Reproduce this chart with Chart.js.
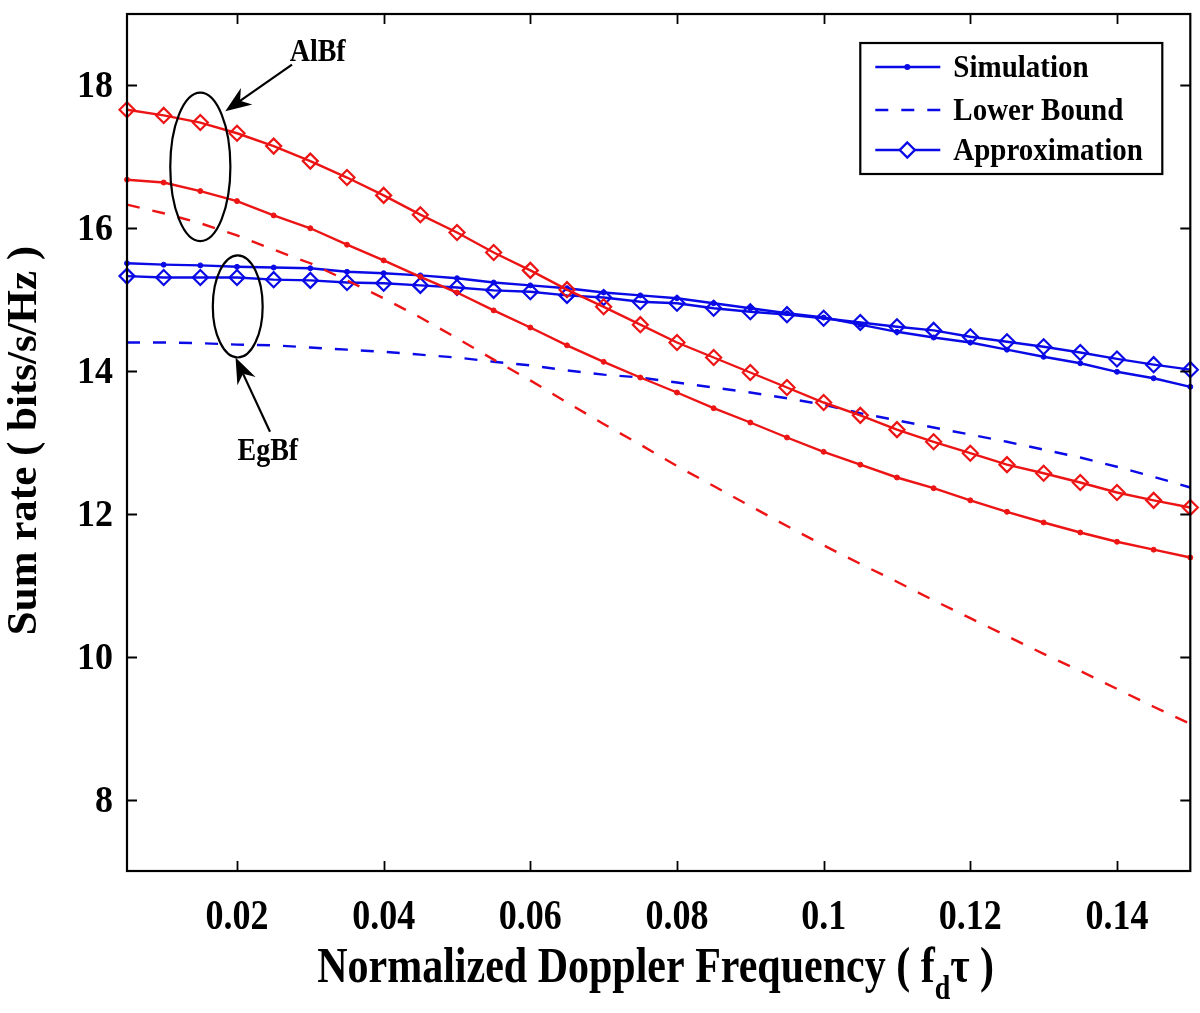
<!DOCTYPE html>
<html>
<head>
<meta charset="utf-8">
<title>Sum rate vs normalized Doppler frequency</title>
<script src="https://cdn.jsdelivr.net/npm/chart.js@4.4.1/dist/chart.umd.min.js"></script>
<style>
  html, body { margin: 0; padding: 0; background: #fff; }
</style>
</head>
<body>
<canvas id="rateChart" width="1200" height="1013"></canvas>
<script>
// normalized Doppler frequency (f_d * tau)
const fd = [0.005, 0.01, 0.015, 0.02, 0.025, 0.03, 0.035, 0.04, 0.045, 0.05,
            0.055, 0.06, 0.065, 0.07, 0.075, 0.08, 0.085, 0.09, 0.095, 0.1,
            0.105, 0.11, 0.115, 0.12, 0.125, 0.13, 0.135, 0.14, 0.145, 0.15];

// AlBf (red)
const alSim    = [16.68, 16.64, 16.52, 16.38, 16.18, 16.00, 15.77, 15.55, 15.32, 15.10,
                  14.85, 14.61, 14.36, 14.13, 13.91, 13.70, 13.48, 13.28, 13.07, 12.87,
                  12.69, 12.51, 12.36, 12.19, 12.03, 11.88, 11.74, 11.61, 11.50, 11.39];
const alLower  = [16.33, 16.21, 16.07, 15.90, 15.70, 15.51, 15.27, 15.02, 14.75, 14.46,
                  14.16, 13.87, 13.56, 13.26, 12.97, 12.67, 12.39, 12.11, 11.83, 11.56,
                  11.30, 11.05, 10.79, 10.54, 10.29, 10.04, 9.80, 9.55, 9.30, 9.06];
const alApprox = [17.66, 17.58, 17.48, 17.33, 17.15, 16.94, 16.71, 16.46, 16.19, 15.94,
                  15.66, 15.41, 15.14, 14.90, 14.65, 14.40, 14.19, 13.98, 13.77, 13.56,
                  13.38, 13.18, 13.01, 12.85, 12.69, 12.57, 12.44, 12.30, 12.19, 12.09];

// EgBf (blue)
const egSim    = [15.51, 15.49, 15.48, 15.46, 15.45, 15.44, 15.39, 15.37, 15.34, 15.30,
                  15.24, 15.20, 15.16, 15.10, 15.06, 15.02, 14.95, 14.88, 14.81, 14.75,
                  14.65, 14.55, 14.47, 14.40, 14.30, 14.20, 14.11, 13.99, 13.90, 13.78];
const egLower  = [14.40, 14.40, 14.39, 14.37, 14.36, 14.33, 14.30, 14.27, 14.23, 14.19,
                  14.13, 14.08, 14.01, 13.95, 13.91, 13.84, 13.77, 13.70, 13.62, 13.53,
                  13.41, 13.31, 13.21, 13.11, 13.01, 12.90, 12.79, 12.66, 12.52, 12.37];
const egApprox = [15.33, 15.31, 15.31, 15.31, 15.28, 15.27, 15.24, 15.23, 15.20, 15.17,
                  15.13, 15.11, 15.06, 15.03, 14.97, 14.95, 14.88, 14.83, 14.79, 14.74,
                  14.68, 14.62, 14.57, 14.48, 14.41, 14.34, 14.26, 14.17, 14.09, 14.02];

// axis ticks
const xTicks = [0.02, 0.04, 0.06, 0.08, 0.1, 0.12, 0.14];
const yTicks = [8, 10, 12, 14, 16, 18];
const legendLabels = ["Simulation", "Lower Bound", "Approximation"];

const RED = "rgb(236, 20, 20)";
const BLUE = "rgb(10, 10, 230)";
const SERIF = "'Liberation Serif', 'Times New Roman', serif";
const LW = 2.4;

function toPoints(ys) {
  return fd.map((x, i) => ({ x: x, y: ys[i] }));
}

function simSet(ys, color) {
  return {
    data: toPoints(ys), borderColor: color, backgroundColor: color,
    borderWidth: LW, pointRadius: 2.5, pointBorderWidth: 1,
    pointBackgroundColor: color, pointBorderColor: color, clip: false
  };
}
function lowerSet(ys, color) {
  return {
    data: toPoints(ys), borderColor: color, borderWidth: LW,
    borderDash: [13, 13], pointRadius: 0, clip: false
  };
}
function approxSet(ys, color) {
  return {
    data: toPoints(ys), borderColor: color, borderWidth: LW,
    pointStyle: "rectRot", pointRadius: 7.5, pointBorderWidth: 2.2,
    pointBackgroundColor: "rgba(0,0,0,0)", pointBorderColor: color, clip: false
  };
}

// draws an arrow with a filled, notched head at (x2, y2)
function arrow(ctx, x1, y1, x2, y2) {
  const ang = Math.atan2(y2 - y1, x2 - x1);
  const c = Math.cos(ang), s = Math.sin(ang);
  const len = 26, half = 10, notch = 18;
  ctx.beginPath();
  ctx.moveTo(x1, y1);
  ctx.lineTo(x2 - c * notch, y2 - s * notch);
  ctx.stroke();
  ctx.beginPath();
  ctx.moveTo(x2, y2);
  ctx.lineTo(x2 - c * len - s * half, y2 - s * len + c * half);
  ctx.lineTo(x2 - c * notch, y2 - s * notch);
  ctx.lineTo(x2 - c * len + s * half, y2 - s * len - c * half);
  ctx.closePath();
  ctx.fill();
}

// stretched text, like the original figure
function tallText(ctx, txt, x, y, sy) {
  ctx.save();
  ctx.translate(x, y);
  ctx.scale(1, sy);
  ctx.fillText(txt, 0, 0);
  ctx.restore();
}

const matlabAxes = {
  id: "matlabAxes",
  afterDraw(chart) {
    const ctx = chart.ctx;
    const a = chart.chartArea;
    const xs = chart.scales.x, ys = chart.scales.y;
    ctx.save();
    ctx.strokeStyle = "#000";
    ctx.fillStyle = "#000";

    // box
    ctx.lineWidth = 2.2;
    ctx.strokeRect(a.left, a.top, a.right - a.left, a.bottom - a.top);

    // inward ticks
    ctx.lineWidth = 1.8;
    const tl = 10;
    ctx.beginPath();
    xTicks.forEach(v => {
      const px = Math.round(xs.getPixelForValue(v)) + 0.5;
      ctx.moveTo(px, a.bottom); ctx.lineTo(px, a.bottom - tl);
      ctx.moveTo(px, a.top); ctx.lineTo(px, a.top + tl);
    });
    yTicks.forEach(v => {
      const py = Math.round(ys.getPixelForValue(v)) + 0.5;
      ctx.moveTo(a.left, py); ctx.lineTo(a.left + tl, py);
      ctx.moveTo(a.right, py); ctx.lineTo(a.right - tl, py);
    });
    ctx.stroke();

    // tick labels
    ctx.font = "bold 36px " + SERIF;
    ctx.textAlign = "center";
    ctx.textBaseline = "alphabetic";
    xTicks.forEach(v => {
      tallText(ctx, String(+v.toFixed(2)), xs.getPixelForValue(v), a.bottom + 58, 1.2);
    });
    ctx.textAlign = "right";
    yTicks.forEach(v => {
      tallText(ctx, String(v), a.left - 14, ys.getPixelForValue(v) + 12, 1.05);
    });

    // x title with subscript
    const xMid = (a.left + a.right) / 2 - 3;
    const base = a.bottom + 111;
    const big = "bold 42px " + SERIF, small = "bold 28px " + SERIF;
    const p1 = "Normalized Doppler Frequency ( f", p2 = "d", p3 = "\u03C4 )";
    ctx.font = big;
    const w1 = ctx.measureText(p1).width, w3 = ctx.measureText(p3).width;
    ctx.font = small;
    const w2 = ctx.measureText(p2).width;
    let sx = xMid - (w1 + w2 + w3) / 2;
    ctx.textAlign = "left";
    ctx.font = big;
    tallText(ctx, p1, sx, base, 1.2);
    ctx.font = small;
    tallText(ctx, p2, sx + w1, base + 17, 1.2);
    ctx.font = big;
    tallText(ctx, p3, sx + w1 + w2, base, 1.2);

    // y title
    ctx.save();
    ctx.translate(36, (a.top + a.bottom) / 2 - 2);
    ctx.rotate(-Math.PI / 2);
    ctx.textAlign = "center";
    ctx.font = "bold 43px " + SERIF;
    ctx.fillText("Sum rate ( bits/s/Hz )", 0, 0);
    ctx.restore();

    // annotations: ellipses and arrows placed in data coordinates
    ctx.lineWidth = 2.2;
    const ell = (cx, hw, yTop, yBot) => {
      const x0 = xs.getPixelForValue(cx);
      const rx = xs.getPixelForValue(cx + hw) - x0;
      const y0 = ys.getPixelForValue(yTop), y1 = ys.getPixelForValue(yBot);
      ctx.beginPath();
      ctx.ellipse(x0, (y0 + y1) / 2, rx, (y1 - y0) / 2, 0, 0, Math.PI * 2);
      ctx.stroke();
    };
    ell(0.015, 0.0041, 17.90, 15.82);
    ell(0.0201, 0.0034, 15.62, 14.19);
    arrow(ctx, xs.getPixelForValue(0.0275), ys.getPixelForValue(18.29),
               xs.getPixelForValue(0.0184), ys.getPixelForValue(17.64));
    arrow(ctx, xs.getPixelForValue(0.0245), ys.getPixelForValue(13.15),
               xs.getPixelForValue(0.0198), ys.getPixelForValue(14.19));
    ctx.font = "bold 28px " + SERIF;
    ctx.textAlign = "center";
    tallText(ctx, "AlBf", xs.getPixelForValue(0.031), ys.getPixelForValue(18.48) + 10, 1.1);
    tallText(ctx, "EgBf", xs.getPixelForValue(0.0242), ys.getPixelForValue(12.90) + 10, 1.1);

    // legend box
    const bx = a.right - 330, by = a.top + 29, bw = 302, bh = 131;
    ctx.fillStyle = "#fff";
    ctx.fillRect(bx, by, bw, bh);
    ctx.strokeStyle = "#000";
    ctx.lineWidth = 2.2;
    ctx.strokeRect(bx, by, bw, bh);
    const rows = [by + 24, by + 67, by + 107];
    ctx.strokeStyle = BLUE;
    ctx.fillStyle = BLUE;
    rows.forEach((ry, i) => {
      ctx.lineWidth = LW;
      ctx.setLineDash(i === 1 ? [13, 13] : []);
      ctx.beginPath();
      ctx.moveTo(bx + 15, ry); ctx.lineTo(bx + 80, ry);
      ctx.stroke();
      ctx.setLineDash([]);
      const mx = bx + 47;
      if (i === 0) {
        ctx.beginPath(); ctx.arc(mx, ry, 3, 0, Math.PI * 2); ctx.fill();
      } else if (i === 2) {
        ctx.fillStyle = "#fff";
        ctx.beginPath();
        ctx.moveTo(mx, ry - 7.5); ctx.lineTo(mx + 7.5, ry); ctx.lineTo(mx, ry + 7.5); ctx.lineTo(mx - 7.5, ry);
        ctx.closePath(); ctx.fill(); ctx.stroke();
        ctx.fillStyle = BLUE;
      }
    });
    ctx.fillStyle = "#000";
    ctx.textAlign = "left";
    ctx.font = "bold 29px " + SERIF;
    legendLabels.forEach((t, i) => tallText(ctx, t, bx + 93, rows[i] + 10, 1.1));

    ctx.restore();
  }
};

new Chart(document.getElementById("rateChart").getContext("2d"), {
  type: "line",
  data: {
    datasets: [
      simSet(alSim, RED), lowerSet(alLower, RED), approxSet(alApprox, RED),
      simSet(egSim, BLUE), lowerSet(egLower, BLUE), approxSet(egApprox, BLUE)
    ]
  },
  options: {
    responsive: false,
    animation: false,
    devicePixelRatio: 1,
    layout: { padding: { left: 127, right: 9, top: 14, bottom: 142 } },
    plugins: { legend: { display: false }, tooltip: { enabled: false } },
    elements: { line: { tension: 0 } },
    scales: {
      x: { type: "linear", min: 0.005, max: 0.15, display: false },
      y: { type: "linear", min: 7, max: 19, display: false }
    }
  },
  plugins: [matlabAxes]
});
</script>
</body>
</html>
